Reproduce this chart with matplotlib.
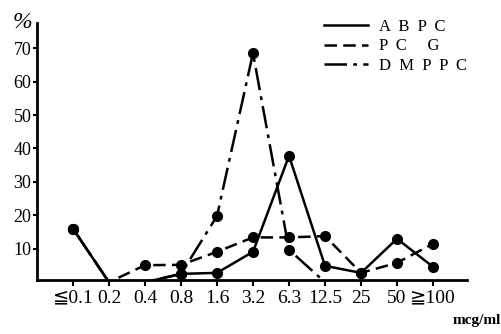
import numpy as np
import matplotlib.pyplot as plt

# concentration classes (mcg/ml) and % of strains per class
conc = ['≦0.1', '0.2', '0.4', '0.8', '1.6', '3.2', '6.3', '12.5', '25', '50', '≧100']
abpc = [16, 0, 0, 2.5, 2.8, 9.1, 37.8, 4.9, 2.8, 13.0, 4.6]
pcg = [16, 0, 5.1, 5.2, 9.1, 13.4, 13.4, 13.8, 2.8, 5.8, 11.5]
dmppc = [16, 0, 0, 2.5, 19.8, 68.5, 9.7, 0, np.nan, np.nan, np.nan]

series = [
    ('A  B  P  C', abpc, '-'),
    ('P  C     G', pcg, (0, (5, 2.5))),
    ('D  M  P  P  C', dmppc, (0, (9, 2.5, 1.5, 2.5))),
]

fonts = ['Liberation Serif', 'DejaVu Serif', 'DejaVu Sans']
plt.rcParams['font.family'] = fonts

fig = plt.figure(figsize=(5.02, 3.34), dpi=100)
ax = fig.add_axes([0.0737, 0.162, 0.857, 0.769])

x = np.arange(len(conc))
for name, vals, ls in series:
    v = np.array(vals, dtype=float)
    ax.plot(x, v, color='black', linestyle=ls, linewidth=1.8, label=name)
    m = v > 0
    ax.plot(x[m], v[m], 'o', color='black', markersize=7)

ax.set_xlim(-1.0, 10.95)
ax.set_ylim(0.7, 77.5)
ax.set_xticks(x)
ax.set_xticklabels(conc, fontsize=14)
ax.set_yticks([10, 20, 30, 40, 50, 60, 70])
ax.tick_params(axis='y', length=3, width=1.5, pad=1, labelsize=13)
ax.tick_params(axis='x', length=4, width=1.5, pad=3)
for s in ['top', 'right']:
    ax.spines[s].set_visible(False)
for s in ['left', 'bottom']:
    ax.spines[s].set_linewidth(2)

fig.text(0.045, 0.915, '%', fontsize=17, style='italic', ha='center')
fig.text(0.997, 0.03, 'mcg/ml', fontsize=11, fontweight='bold', ha='right')

leg = ax.legend(loc='upper right', bbox_to_anchor=(1.035, 1.075), frameon=False,
                fontsize=12, handlelength=2.6, handletextpad=0.7, labelspacing=0.22)

fig.savefig('out.png', dpi=100)
